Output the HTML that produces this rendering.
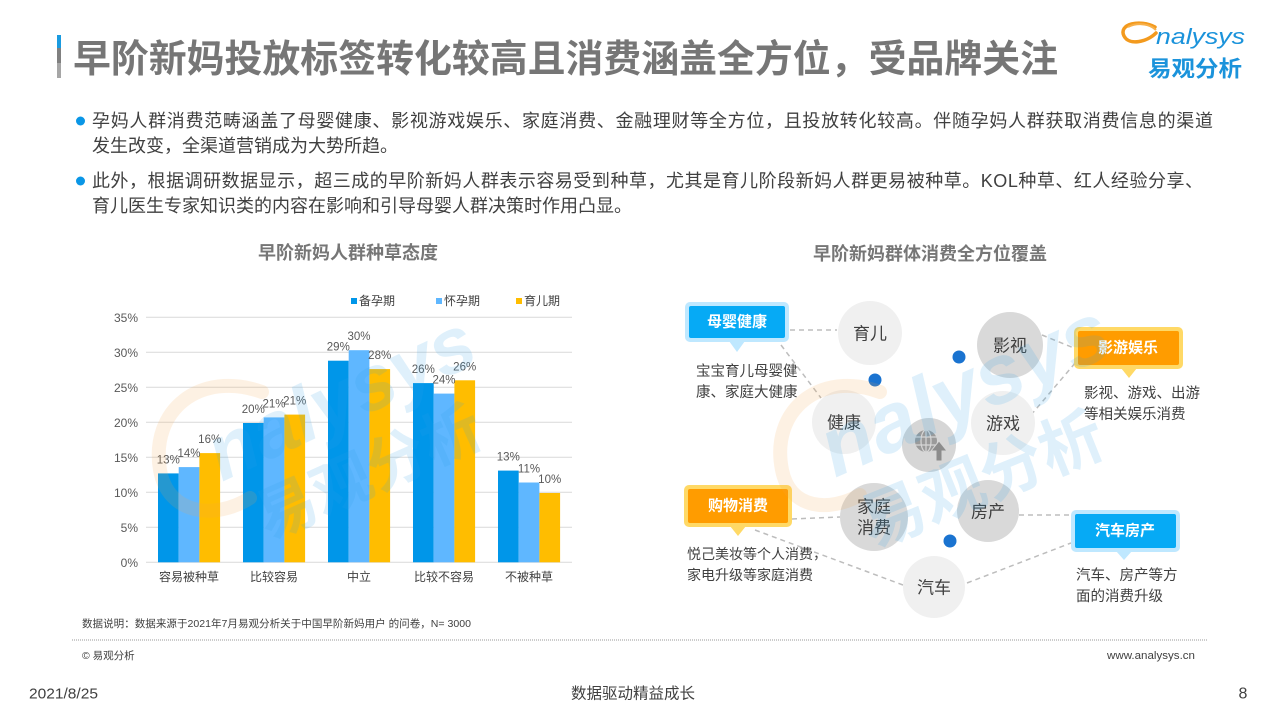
<!DOCTYPE html>
<html><head><meta charset="utf-8">
<style>
html,body{margin:0;padding:0;background:#fff;}
body{width:1280px;height:720px;overflow:hidden;}
svg{display:block;font-family:"Liberation Sans","Noto Sans CJK SC",sans-serif;}
</style></head>
<body>
<svg width="1280" height="720" viewBox="0 0 1280 720" xmlns="http://www.w3.org/2000/svg">
<rect width="1280" height="720" fill="#fff"/>

<!-- Title bar -->
<rect x="57" y="35" width="4" height="13" fill="#1a9be0"/>
<rect x="57" y="48" width="4" height="15" fill="#808080"/>
<rect x="57" y="63" width="4" height="15" fill="#a6a6a6"/>
<text x="73" y="60" dominant-baseline="central" font-size="38" font-weight="700" fill="#767676" textLength="985" lengthAdjust="spacingAndGlyphs">早阶新妈投放标签转化较高且消费涵盖全方位，受品牌关注</text>

<!-- Logo -->
<path d="M1155 27 C1140 19 1118 24 1124 36 C1129 46 1147 42 1156 33" fill="none" stroke="#f39a1e" stroke-width="3.5" stroke-linecap="round"/>
<path d="M1128 27 C1138 22 1150 24 1156 30" fill="none" stroke="#f7b04a" stroke-width="2"/>
<text x="1156" y="44" font-size="22" font-style="italic" fill="#1b93db" textLength="89" lengthAdjust="spacingAndGlyphs">nalysys</text>
<text x="1148" y="69" dominant-baseline="central" font-size="22" font-weight="700" fill="#1b93db" textLength="94" lengthAdjust="spacingAndGlyphs">易观分析</text>

<!-- Bullets -->
<circle cx="80.5" cy="121" r="4.5" fill="#0a96e6"/>
<circle cx="80.5" cy="181" r="4.5" fill="#0a96e6"/>
<g font-size="18" fill="#404040">
<text x="92" y="121" dominant-baseline="central" textLength="1121" lengthAdjust="spacing">孕妈人群消费范畴涵盖了母婴健康、影视游戏娱乐、家庭消费、金融理财等全方位，且投放转化较高。伴随孕妈人群获取消费信息的渠道</text>
<text x="92" y="146" dominant-baseline="central">发生改变，全渠道营销成为大势所趋。</text>
<text x="92" y="181" dominant-baseline="central" textLength="1111" lengthAdjust="spacing">此外，根据调研数据显示，超三成的早阶新妈人群表示容易受到种草，尤其是育儿阶段新妈人群更易被种草。KOL种草、红人经验分享、</text>
<text x="92" y="206" dominant-baseline="central">育儿医生专家知识类的内容在影响和引导母婴人群决策时作用凸显。</text>
</g>

<!-- Left chart title -->
<text x="348" y="253" text-anchor="middle" dominant-baseline="central" font-size="18" font-weight="700" fill="#767676">早阶新妈人群种草态度</text>

<!-- Legend -->
<g font-size="12" fill="#404040">
<rect x="351" y="298" width="6" height="6" fill="#0096e9"/>
<text x="359" y="301" dominant-baseline="central">备孕期</text>
<rect x="436" y="298" width="6" height="6" fill="#5fb7ff"/>
<text x="444" y="301" dominant-baseline="central">怀孕期</text>
<rect x="516" y="298" width="6" height="6" fill="#ffbd00"/>
<text x="524" y="301" dominant-baseline="central">育儿期</text>
</g>

<!-- Gridlines -->
<g stroke="#d9d9d9" stroke-width="1">
<line x1="146" y1="317.3" x2="572" y2="317.3"/>
<line x1="146" y1="352.3" x2="572" y2="352.3"/>
<line x1="146" y1="387.3" x2="572" y2="387.3"/>
<line x1="146" y1="422.3" x2="572" y2="422.3"/>
<line x1="146" y1="457.3" x2="572" y2="457.3"/>
<line x1="146" y1="492.3" x2="572" y2="492.3"/>
<line x1="146" y1="527.3" x2="572" y2="527.3"/>
<line x1="146" y1="562.3" x2="572" y2="562.3"/>
</g>
<g font-size="12" fill="#595959" text-anchor="end">
<text x="138" y="318" dominant-baseline="central">35%</text>
<text x="138" y="353" dominant-baseline="central">30%</text>
<text x="138" y="388" dominant-baseline="central">25%</text>
<text x="138" y="423" dominant-baseline="central">20%</text>
<text x="138" y="458" dominant-baseline="central">15%</text>
<text x="138" y="493" dominant-baseline="central">10%</text>
<text x="138" y="528" dominant-baseline="central">5%</text>
<text x="138" y="563" dominant-baseline="central">0%</text>
</g>

<!-- Bars -->
<g>
<rect x="158" y="473.4" width="20.7" height="88.9" fill="#0096e9"/>
<rect x="178.7" y="467.1" width="20.7" height="95.2" fill="#5fb7ff"/>
<rect x="199.4" y="453.1" width="20.7" height="109.2" fill="#ffbd00"/>
<rect x="243" y="423.0" width="20.7" height="139.3" fill="#0096e9"/>
<rect x="263.7" y="417.4" width="20.7" height="144.9" fill="#5fb7ff"/>
<rect x="284.4" y="414.6" width="20.7" height="147.7" fill="#ffbd00"/>
<rect x="328" y="360.7" width="20.7" height="201.6" fill="#0096e9"/>
<rect x="348.7" y="350.2" width="20.7" height="212.1" fill="#5fb7ff"/>
<rect x="369.4" y="369.1" width="20.7" height="193.2" fill="#ffbd00"/>
<rect x="413" y="383.1" width="20.7" height="179.2" fill="#0096e9"/>
<rect x="433.7" y="393.6" width="20.7" height="168.7" fill="#5fb7ff"/>
<rect x="454.4" y="380.3" width="20.7" height="182.0" fill="#ffbd00"/>
<rect x="498" y="470.6" width="20.7" height="91.7" fill="#0096e9"/>
<rect x="518.7" y="482.5" width="20.7" height="79.8" fill="#5fb7ff"/>
<rect x="539.4" y="493.0" width="20.7" height="69.3" fill="#ffbd00"/>
</g>
<g font-size="11.5" fill="#595959" text-anchor="middle">
<text x="168.3" y="460.4" dominant-baseline="central">13%</text>
<text x="189" y="454.1" dominant-baseline="central">14%</text>
<text x="209.7" y="440.1" dominant-baseline="central">16%</text>
<text x="253.3" y="410" dominant-baseline="central">20%</text>
<text x="274" y="404.4" dominant-baseline="central">21%</text>
<text x="294.7" y="401.6" dominant-baseline="central">21%</text>
<text x="338.3" y="347.7" dominant-baseline="central">29%</text>
<text x="359" y="337.2" dominant-baseline="central">30%</text>
<text x="379.7" y="356.1" dominant-baseline="central">28%</text>
<text x="423.3" y="370.1" dominant-baseline="central">26%</text>
<text x="444" y="380.6" dominant-baseline="central">24%</text>
<text x="464.7" y="367.3" dominant-baseline="central">26%</text>
<text x="508.3" y="457.6" dominant-baseline="central">13%</text>
<text x="529" y="469.5" dominant-baseline="central">11%</text>
<text x="549.7" y="480" dominant-baseline="central">10%</text>
</g>
<g font-size="12" fill="#404040" text-anchor="middle">
<text x="189" y="577" dominant-baseline="central">容易被种草</text>
<text x="274" y="577" dominant-baseline="central">比较容易</text>
<text x="359" y="577" dominant-baseline="central">中立</text>
<text x="444" y="577" dominant-baseline="central">比较不容易</text>
<text x="529" y="577" dominant-baseline="central">不被种草</text>
</g>

<!-- Left watermark -->
<g opacity="0.15">
<path d="M262 392 C200 370 150 410 160 470 C168 515 215 520 250 498" fill="none" stroke="#f7a64a" stroke-width="14" stroke-linecap="round"/>
<text transform="translate(222,482) rotate(-25)" font-size="78" font-style="italic" font-weight="700" fill="#2ea3ea">nalysys</text>
<text transform="translate(268,540) rotate(-24)" font-size="60" font-weight="700" fill="#2ea3ea">易观分析</text>
</g>

<!-- Right chart title -->
<text x="930" y="254" text-anchor="middle" dominant-baseline="central" font-size="18" font-weight="700" fill="#767676">早阶新妈群体消费全方位覆盖</text>

<!-- Dashed connectors -->
<g stroke="#bdbdbd" stroke-width="1.5" stroke-dasharray="5 4" fill="none">
<line x1="790" y1="330" x2="837" y2="330"/>
<line x1="781" y1="345" x2="821" y2="398"/>
<line x1="1042" y1="335" x2="1074" y2="348"/>
<line x1="1031" y1="415" x2="1076" y2="362"/>
<line x1="792" y1="519" x2="840" y2="517"/>
<line x1="755" y1="530" x2="903" y2="585"/>
<line x1="1019" y1="515" x2="1071" y2="515"/>
<line x1="967" y1="583" x2="1071" y2="543"/>
</g>

<!-- Circles -->
<circle cx="870" cy="333" r="32" fill="#f0f0f0"/>
<circle cx="1010" cy="345" r="33" fill="#d9d9d9"/>
<circle cx="844" cy="422" r="32" fill="#f0f0f0"/>
<circle cx="1003" cy="423" r="32" fill="#f0f0f0"/>
<circle cx="929" cy="445" r="27" fill="#d6d6d6"/>
<circle cx="874" cy="517" r="34" fill="#d9d9d9"/>
<circle cx="988" cy="511" r="31" fill="#d9d9d9"/>
<circle cx="934" cy="587" r="31" fill="#f0f0f0"/>
<g>
<circle cx="926" cy="441" r="11" fill="#9a9a9a"/>
<g stroke="#d6d6d6" stroke-width="1.2" fill="none">
<ellipse cx="926" cy="441" rx="5" ry="11"/>
<line x1="915" y1="437" x2="937" y2="437"/>
<line x1="915" y1="445" x2="937" y2="445"/>
<line x1="926" y1="430" x2="926" y2="452"/>
</g>
<path d="M939 441 L947 451 L942 451 L942 461 L936 461 L936 451 L931 451 Z" fill="#8c8c8c" stroke="#d6d6d6" stroke-width="1"/>
</g>
<g font-size="17" fill="#404040" text-anchor="middle">
<text x="870" y="334" dominant-baseline="central">育儿</text>
<text x="1010" y="346" dominant-baseline="central">影视</text>
<text x="844" y="423" dominant-baseline="central">健康</text>
<text x="1003" y="424" dominant-baseline="central">游戏</text>
<text x="874" y="507" dominant-baseline="central">家庭</text>
<text x="874" y="528" dominant-baseline="central">消费</text>
<text x="988" y="512" dominant-baseline="central">房产</text>
<text x="934" y="588" dominant-baseline="central">汽车</text>
</g>
<circle cx="875" cy="380" r="6.5" fill="#1a73d0"/>
<circle cx="959" cy="357" r="6.5" fill="#1a73d0"/>
<circle cx="950" cy="541" r="6.5" fill="#1a73d0"/>

<!-- Callouts -->
<path d="M729 341 L745 341 L737 352 Z" fill="#bfe8ff"/>
<rect x="685" y="302" width="104" height="40" rx="5" fill="#bfe8ff"/>
<rect x="689" y="306" width="96" height="32" rx="2" fill="#06aaf5"/>
<text x="737" y="322" text-anchor="middle" dominant-baseline="central" font-size="15" font-weight="700" fill="#fff">母婴健康</text>

<path d="M1121 368 L1137 368 L1129 378 Z" fill="#ffd966"/>
<rect x="1074" y="327" width="109" height="42" rx="5" fill="#ffd966"/>
<rect x="1078" y="331" width="101" height="34" rx="2" fill="#ff9c00"/>
<text x="1128" y="348" text-anchor="middle" dominant-baseline="central" font-size="15" font-weight="700" fill="#fff">影游娱乐</text>

<path d="M730 526 L746 526 L738 536 Z" fill="#ffd966"/>
<rect x="684" y="485" width="108" height="42" rx="5" fill="#ffd966"/>
<rect x="688" y="489" width="100" height="34" rx="2" fill="#ff9c00"/>
<text x="738" y="506" text-anchor="middle" dominant-baseline="central" font-size="15" font-weight="700" fill="#fff">购物消费</text>

<path d="M1116 551 L1132 551 L1124 560 Z" fill="#bfe8ff"/>
<rect x="1071" y="510" width="109" height="42" rx="5" fill="#bfe8ff"/>
<rect x="1075" y="514" width="101" height="34" rx="2" fill="#06aaf5"/>
<text x="1125" y="531" text-anchor="middle" dominant-baseline="central" font-size="15" font-weight="700" fill="#fff">汽车房产</text>

<g font-size="14.5" fill="#404040">
<text x="696" y="372" dominant-baseline="central">宝宝育儿母婴健</text>
<text x="696" y="393" dominant-baseline="central">康、家庭大健康</text>
<text x="1084" y="394" dominant-baseline="central">影视、游戏、出游</text>
<text x="1084" y="415" dominant-baseline="central">等相关娱乐消费</text>
<text x="687" y="554" dominant-baseline="central" font-size="14">悦己美妆等个人消费，</text>
<text x="687" y="575" dominant-baseline="central" font-size="14">家电升级等家庭消费</text>
<text x="1076" y="576" dominant-baseline="central">汽车、房产等方</text>
<text x="1076" y="597" dominant-baseline="central">面的消费升级</text>
</g>

<!-- Right watermark -->
<g opacity="0.15">
<path d="M880 392 C820 370 770 410 782 470 C790 510 830 512 860 495" fill="none" stroke="#f7a64a" stroke-width="14" stroke-linecap="round"/>
<text transform="translate(835,478) rotate(-24)" font-size="84" font-style="italic" font-weight="700" fill="#2ea3ea">nalysys</text>
<text transform="translate(872,548) rotate(-22)" font-size="64" font-weight="700" fill="#2ea3ea">易观分析</text>
</g>

<!-- Footer -->
<text x="82" y="624" dominant-baseline="central" font-size="10.5" fill="#404040" textLength="389" lengthAdjust="spacingAndGlyphs">数据说明：数据来源于2021年7月易观分析关于中国早阶新妈用户 的问卷，N= 3000</text>
<line x1="72" y1="640" x2="1207" y2="640" stroke="#9a9a9a" stroke-width="1" stroke-dasharray="1 1"/>
<text x="82" y="656" dominant-baseline="central" font-size="10.5" fill="#404040">© 易观分析</text>
<text x="1195" y="656" text-anchor="end" dominant-baseline="central" font-size="11" fill="#404040" textLength="88" lengthAdjust="spacingAndGlyphs">www.analysys.cn</text>
<text x="29" y="694" dominant-baseline="central" font-size="15" fill="#404040" textLength="69" lengthAdjust="spacingAndGlyphs">2021/8/25</text>
<text x="633" y="694" text-anchor="middle" dominant-baseline="central" font-size="15.5" fill="#404040">数据驱动精益成长</text>
<text x="1243" y="694" text-anchor="middle" dominant-baseline="central" font-size="16" fill="#404040">8</text>
</svg>
</body></html>
